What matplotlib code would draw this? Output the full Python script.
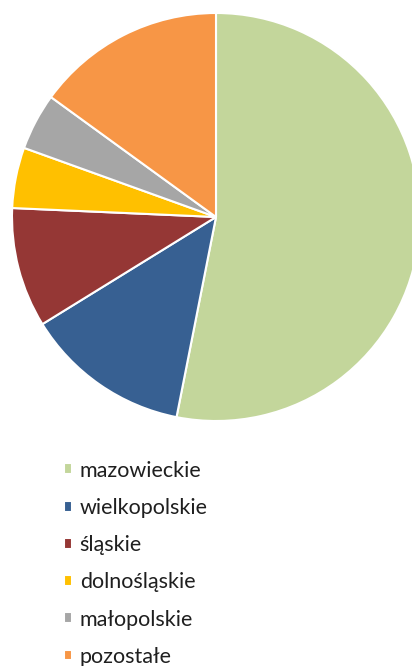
import matplotlib
matplotlib.use("Agg")
import matplotlib.pyplot as plt

regions = ["mazowieckie", "wielkopolskie", "śląskie", "dolnośląskie", "małopolskie", "pozostałe"]
shares = [53.1, 13.1, 9.5, 4.8, 4.5, 15.0]
colors = ["#C3D69B", "#376092", "#953735", "#FFC000", "#A6A6A6", "#F79646"]

plt.rcParams['font.family'] = ['Lato', 'DejaVu Sans']

W, H = 412, 666
fig = plt.figure(figsize=(W / 100, H / 100), dpi=100)

# pie centre ~ (216, 217) px, radius ~204 px
cx, cy, r = 216, 217, 204
ax = fig.add_axes([(cx - r) / W, (H - cy - r) / H, 2 * r / W, 2 * r / H])
wedges, _ = ax.pie(shares, colors=colors, startangle=90, counterclock=False,
                   wedgeprops=dict(edgecolor="white", linewidth=1.5))
ax.set_xlim(-1, 1)
ax.set_ylim(-1, 1)
ax.set_aspect("equal")
ax.axis("off")

leg = fig.legend(wedges, regions, loc="upper left", bbox_to_anchor=(55 / W, 1 - 452 / H),
                 frameon=False, fontsize=15.5, handlelength=0.4, handleheight=0.4,
                 handletextpad=0.35, labelspacing=0.8, borderaxespad=0)
for t in leg.get_texts():
    t.set_color("#1f1f1f")

fig.savefig("out.png", dpi=100)
